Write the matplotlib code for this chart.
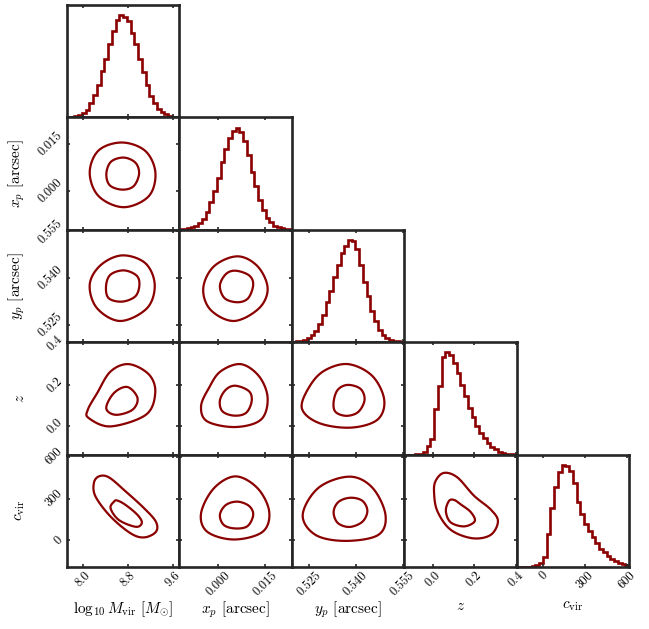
import numpy as np
import matplotlib
matplotlib.use("Agg")
import matplotlib.pyplot as plt
from matplotlib.patches import Polygon

plt.rcParams["font.family"] = "serif"
plt.rcParams["font.serif"] = ["cmr10", "DejaVu Serif"]
plt.rcParams["mathtext.fontset"] = "cm"
plt.rcParams["axes.formatter.use_mathtext"] = True

# ---- parameters -----------------------------------------------------------
labels = [r"$\log_{10}M_{\rm vir}\ [M_{\odot}]$", r"$x_p$ [arcsec]",
          r"$y_p$ [arcsec]", r"$z$", r"$c_{\rm vir}$"]
limits = [(7.72, 9.71), (-0.0123, 0.0235), (0.5195, 0.5555),
          (-0.137, 0.405), (-190.0, 615.0)]
tick_values = [[8.0, 8.8, 9.6], [0.000, 0.015], [0.525, 0.540, 0.555],
               [0.0, 0.2, 0.4], [0, 300, 600]]
tick_labels = [["8.0", "8.8", "9.6"], ["0.000", "0.015"],
               ["0.525", "0.540", "0.555"], ["0.0", "0.2", "0.4"],
               ["0", "300", "600"]]

# ---- 1D marginal posteriors (normalised bin heights, 30 bins over limits) --
hist_logM = [0.003, 0.007, 0.013, 0.026, 0.046, 0.076, 0.14, 0.22, 0.32, 0.45,
             0.57, 0.72, 0.85, 0.95, 1.0, 0.98, 0.94, 0.83, 0.72, 0.57,
             0.44, 0.32, 0.21, 0.14, 0.085, 0.053, 0.03, 0.016, 0.007, 0.003]
hist_xp = [0.003, 0.007, 0.013, 0.023, 0.04, 0.066, 0.11, 0.17, 0.27, 0.38,
           0.51, 0.66, 0.79, 0.90, 0.97, 1.0, 0.96, 0.87, 0.73, 0.57,
           0.43, 0.29, 0.19, 0.12, 0.073, 0.04, 0.023, 0.013, 0.007, 0.003]
hist_yp = [0.003, 0.007, 0.013, 0.023, 0.043, 0.07, 0.11, 0.18, 0.27, 0.39,
           0.50, 0.64, 0.76, 0.87, 0.94, 1.0, 0.99, 0.91, 0.76, 0.59,
           0.45, 0.31, 0.21, 0.12, 0.073, 0.043, 0.023, 0.013, 0.007, 0.003]
hist_z = [0.0, 0.0, 0.0, 0.003, 0.01, 0.03, 0.08, 0.15, 0.45, 0.67,
          0.96, 1.0, 0.97, 0.90, 0.80, 0.68, 0.57, 0.46, 0.37, 0.28,
          0.21, 0.16, 0.11, 0.075, 0.05, 0.03, 0.018, 0.01, 0.006, 0.003]
hist_c = [0.0, 0.0, 0.0, 0.002, 0.005, 0.015, 0.04, 0.10, 0.32, 0.58,
          0.78, 0.93, 1.0, 0.99, 0.94, 0.82, 0.64, 0.52, 0.42, 0.35,
          0.29, 0.23, 0.18, 0.15, 0.11, 0.08, 0.06, 0.04, 0.025, 0.015]
histograms = [hist_logM, hist_xp, hist_yp, hist_z, hist_c]

# ---- 2D credible contours (inner / outer level outlines, data units) -------
contours = {
    (1, 0): {
        "outer": ([8.695, 9.107, 9.285, 9.167, 8.724, 8.281, 8.122, 8.281],
                  [0.0155, 0.0128, 0.0059, -0.0016, -0.0051, -0.0016, 0.0059, 0.0130]),
        "inner": ([8.724, 8.93, 8.996, 8.90, 8.695, 8.476, 8.417, 8.50],
                  [0.0107, 0.0091, 0.0056, 0.0016, 0.0005, 0.0019, 0.0056, 0.0094]),
    },
    (2, 0): {
        "outer": ([8.695, 9.107, 9.273, 9.137, 8.665, 8.251, 8.122, 8.311],
                  [0.5473, 0.5448, 0.5379, 0.5304, 0.5263, 0.5304, 0.5379, 0.5441]),
        "inner": ([8.724, 8.948, 9.002, 8.93, 8.695, 8.458, 8.411, 8.488],
                  [0.5425, 0.5409, 0.5379, 0.5342, 0.5325, 0.5336, 0.5374, 0.5411]),
    },
    (2, 1): {
        "outer": ([0.0062, 0.0126, 0.0158, 0.0131, 0.0051, -0.0024, -0.0047, -0.0013],
                  [0.5470, 0.5438, 0.5368, 0.5304, 0.5263, 0.5299, 0.5368, 0.5438]),
        "inner": ([0.0056, 0.0099, 0.0112, 0.0096, 0.0062, 0.0021, 0.0006, 0.0025],
                  [0.5424, 0.5409, 0.5379, 0.5336, 0.5323, 0.5336, 0.5376, 0.5413]),
    },
    (3, 0): {
        "outer": ([8.818, 9.175, 9.282, 9.116, 8.492, 8.106, 8.088, 8.255, 8.492],
                  [0.299, 0.248, 0.160, 0.055, -0.001, 0.039, 0.079, 0.160, 0.264]),
        "inner": ([8.789, 8.968, 8.878, 8.582, 8.415, 8.552],
                  [0.189, 0.136, 0.079, 0.055, 0.087, 0.160]),
    },
    (3, 1): {
        "outer": ([0.0073, 0.0131, 0.0158, 0.0137, 0.0056, -0.0034, -0.0054, -0.0029, 0.0008],
                  [0.299, 0.240, 0.136, 0.032, -0.004, 0.023, 0.096, 0.184, 0.264]),
        "inner": ([0.0056, 0.0099, 0.0107, 0.0089, 0.0051, 0.0014, 0.0006, 0.0025],
                  [0.195, 0.168, 0.119, 0.064, 0.051, 0.072, 0.124, 0.176]),
    },
    (3, 2): {
        "outer": ([0.5377, 0.5453, 0.5491, 0.5469, 0.5383, 0.5281, 0.5227, 0.5255, 0.5303],
                  [0.299, 0.242, 0.127, 0.031, -0.007, 0.016, 0.088, 0.199, 0.271]),
        "inner": ([0.5374, 0.5415, 0.5428, 0.5408, 0.5370, 0.5335, 0.5329, 0.5342],
                  [0.199, 0.180, 0.127, 0.069, 0.050, 0.069, 0.117, 0.175]),
    },
    (4, 0): {
        "outer": ([8.285, 8.196, 8.225, 8.492, 8.848, 9.087, 9.294, 9.294, 9.087, 8.759, 8.462],
                  [459, 411, 315, 171, 51, 22, 62, 134, 230, 351, 452]),
        "inner": ([8.552, 8.492, 8.641, 8.938, 9.045, 8.968, 8.759, 8.611],
                  [278, 230, 146, 98, 127, 183, 254, 286]),
    },
    (4, 1): {
        "outer": ([0.0056, 0.0126, 0.0163, 0.0142, 0.0051, -0.0034, -0.0054, -0.0013],
                  [459, 374, 207, 62, 7, 62, 195, 374]),
        "inner": ([0.0062, 0.0099, 0.0112, 0.0094, 0.0056, 0.0019, 0.0006, 0.0025],
                  [278, 247, 183, 103, 86, 110, 183, 254]),
    },
    (4, 2): {
        "outer": ([0.5380, 0.5453, 0.5495, 0.5472, 0.5367, 0.5271, 0.5230, 0.5281],
                  [457, 378, 184, 40, -3, 40, 184, 378]),
        "inner": ([0.5383, 0.5421, 0.5437, 0.5421, 0.5380, 0.5342, 0.5329, 0.5345],
                  [306, 284, 212, 134, 97, 126, 205, 277]),
    },
    (4, 3): {
        "outer": ([0.055, 0.015, 0.007, 0.023, 0.087, 0.192, 0.280, 0.315, 0.280, 0.200, 0.119],
                  [484, 428, 344, 210, 77, 16, 40, 138, 222, 320, 452]),
        "inner": ([0.079, 0.064, 0.087, 0.152, 0.203, 0.184, 0.136, 0.104],
                  [283, 210, 130, 101, 138, 203, 258, 290]),
    },
}

LINE_COLOR = "#8b0000"
SPINE_COLOR = "#262626"


def closed_curve(xs, ys, samples=24):
    """Smooth closed Catmull-Rom curve through the outline vertices."""
    p = np.column_stack([xs, ys]).astype(float)
    n = len(p)
    out = []
    t = np.linspace(0, 1, samples, endpoint=False)[:, None]
    for i in range(n):
        p0, p1, p2, p3 = p[(i - 1) % n], p[i], p[(i + 1) % n], p[(i + 2) % n]
        seg = 0.5 * ((2 * p1) + (-p0 + p2) * t
                     + (2 * p0 - 5 * p1 + 4 * p2 - p3) * t ** 2
                     + (-p0 + 3 * p1 - 3 * p2 + p3) * t ** 3)
        out.append(seg)
    return np.vstack(out)


K = len(labels)
fig, axes = plt.subplots(K, K, figsize=(6.49, 6.29), dpi=100)
fig.subplots_adjust(left=67 / 649, right=629 / 649, bottom=1 - 567 / 629,
                    top=1 - 5 / 629, wspace=0, hspace=0)

for i in range(K):
    for j in range(K):
        ax = axes[i, j]
        if j > i:
            ax.set_axis_off()
            continue
        for s in ax.spines.values():
            s.set_linewidth(1.9)
            s.set_color(SPINE_COLOR)
        ax.tick_params(direction="in", length=2.2, width=1.2, color=SPINE_COLOR,
                       top=True, right=True, labelsize=9, pad=1.5)
        ax.set_xlim(*limits[j])
        ax.set_xticks(tick_values[j])
        if i == j:
            h = histograms[i]
            edges = np.linspace(limits[i][0], limits[i][1], len(h) + 1)
            ax.stairs(h, edges, color=LINE_COLOR, lw=1.9)
            ax.set_ylim(0, 1.1 * max(h))
            ax.set_yticks([])
        else:
            ax.set_ylim(*limits[i])
            ax.set_yticks(tick_values[i])
            for key in ("outer", "inner"):
                cx, cy = contours[(i, j)][key]
                ring = Polygon(closed_curve(cx, cy), closed=True, fill=False,
                               edgecolor=LINE_COLOR, lw=1.6, joinstyle="round")
                ax.add_patch(ring)
        if i == K - 1:
            ax.set_xticklabels(tick_labels[j], rotation=45, ha="center")
            ax.set_xlabel(labels[j], fontsize=11)
            ax.xaxis.set_label_coords(0.5, -0.29)
        else:
            ax.set_xticklabels([])
        if j == 0 and i > 0:
            ax.set_yticklabels(tick_labels[i], rotation=45, va="center")
            ax.set_ylabel(labels[i], fontsize=11)
            ax.yaxis.set_label_coords(-0.36, 0.5)
        elif i != j:
            ax.set_yticklabels([])

fig.savefig("out.png", dpi=100, facecolor="white")
